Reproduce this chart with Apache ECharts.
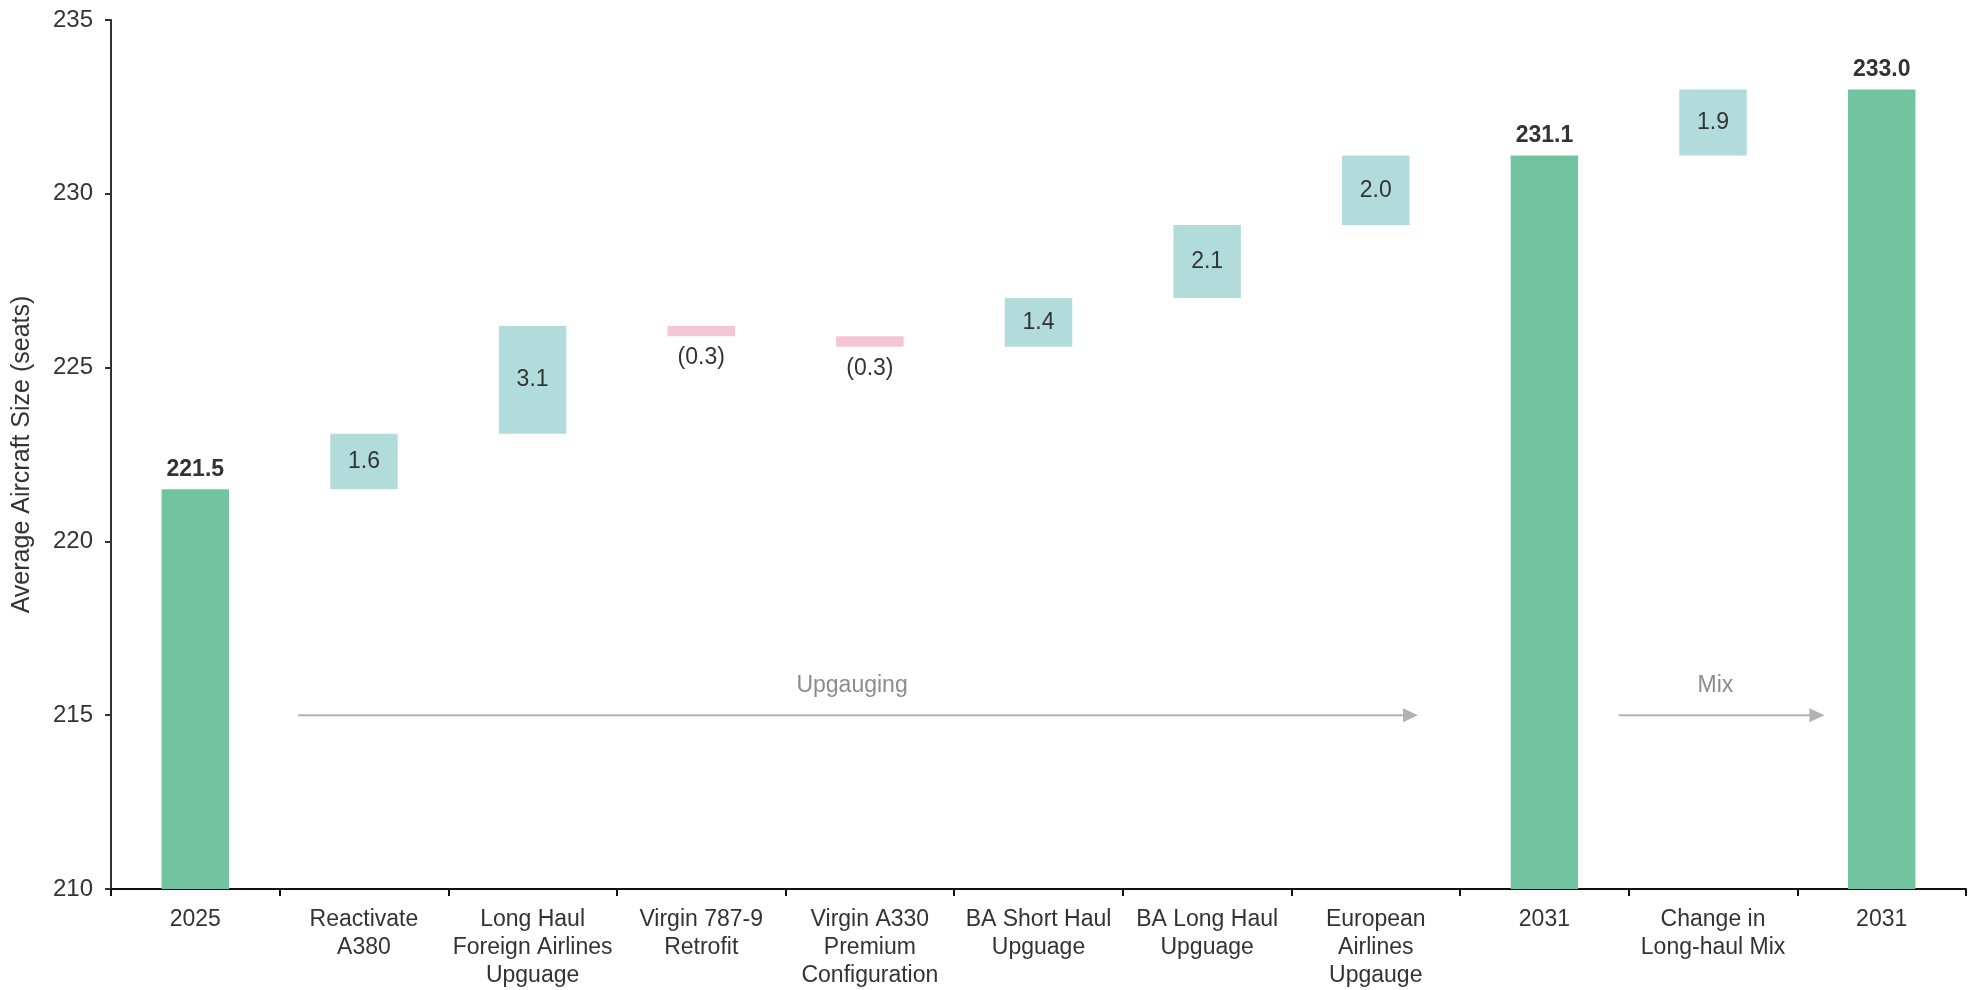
<!DOCTYPE html>
<html>
<head>
<meta charset="utf-8">
<script src="https://cdn.jsdelivr.net/npm/echarts@6/dist/echarts.min.js"></script>
<style>
  html, body { margin: 0; padding: 0; background: #fff; }
  #chart { width: 1974px; height: 990px; }
</style>
</head>
<body>
<div id="chart"></div>
<script>
// 类目
const categories = [
    '2025',
    'Reactivate\nA380',
    'Long Haul\nForeign Airlines\nUpguage',
    'Virgin 787-9\nRetrofit',
    'Virgin A330\nPremium\nConfiguration',
    'BA Short Haul\nUpguage',
    'BA Long Haul\nUpguage',
    'European\nAirlines\nUpgauge',
    '2031',
    'Change in\nLong-haul Mix',
    '2031'
];
// 合计柱
const totalValues = [221.5, '-', '-', '-', '-', '-', '-', '-', 231.1, '-', 233.0];
// 变化量（负数为减少）
const changeValues = [null, 1.6, 3.1, -0.3, -0.3, 1.4, 2.1, 2.0, null, 1.9, null];
// y轴刻度
const yMin = 210, yMax = 235, yStep = 5;

// 透明底座 + 增加 + 减少
let running = 0;
const baseValues = [], upValues = [], downValues = [];
categories.forEach((c, i) => {
    if (totalValues[i] !== '-') {
        running = totalValues[i];
        baseValues.push('-'); upValues.push('-'); downValues.push('-');
    } else {
        const d = changeValues[i];
        if (d >= 0) {
            baseValues.push(running); upValues.push(d); downValues.push('-');
            running = +(running + d).toFixed(1);
        } else {
            running = +(running + d).toFixed(1);
            baseValues.push(running); upValues.push('-'); downValues.push(-d);
        }
    }
});

const font = 'Liberation Sans';
const textColor = '#333';

const chart = echarts.init(document.getElementById('chart'));
chart.setOption({
    animation: false,
    textStyle: { fontFamily: font },
    grid: { left: 111, right: 8, top: 20, bottom: 100, containLabel: false },
    xAxis: {
        type: 'category',
        data: categories,
        axisLine: { lineStyle: { color: '#111', width: 2 } },
        axisTick: { show: true, length: 7, lineStyle: { color: '#111', width: 2 } },
        axisLabel: {
            color: textColor, fontSize: 23, lineHeight: 28, margin: 17, interval: 0
        }
    },
    yAxis: {
        type: 'value',
        min: yMin, max: yMax, interval: yStep,
        name: 'Average Aircraft Size (seats)',
        nameLocation: 'middle',
        nameGap: 76,
        nameTextStyle: { color: textColor, fontSize: 25 },
        splitLine: { show: false },
        axisLine: { show: true, lineStyle: { color: '#333', width: 2 } },
        axisTick: { show: true, length: 6, lineStyle: { color: '#333', width: 2 } },
        axisLabel: { color: textColor, fontSize: 24, margin: 18 }
    },
    series: [
        {
            name: 'base', type: 'bar', stack: 'w', barWidth: '40%',
            itemStyle: { color: 'transparent' },
            data: baseValues, silent: true
        },
        {
            name: 'total', type: 'bar', stack: 'w',
            itemStyle: { color: '#72c3a0' },
            label: {
                show: true, position: 'top', distance: 8,
                color: textColor, fontSize: 23, fontWeight: 'bold',
                formatter: p => p.value.toFixed(1)
            },
            data: totalValues
        },
        {
            name: 'increase', type: 'bar', stack: 'w',
            itemStyle: { color: '#b2dcdc' },
            label: {
                show: true, position: 'inside',
                color: textColor, fontSize: 23,
                formatter: p => p.value.toFixed(1)
            },
            data: upValues
        },
        {
            name: 'decrease', type: 'bar', stack: 'w',
            itemStyle: { color: '#f4c6d4' },
            label: {
                show: true, position: 'bottom', distance: 10,
                color: textColor, fontSize: 23,
                formatter: p => '(' + p.value.toFixed(1) + ')'
            },
            data: downValues
        }
    ]
});

// 箭头注释（位置以类目序号计）
const arrows = [
    { text: 'Upgauging', from: 0.61, to: 7.25, y: 215 },
    { text: 'Mix', from: 8.44, to: 9.66, y: 215 }
];
function px(xIdx, y) {
    const a = chart.convertToPixel({ xAxisIndex: 0, yAxisIndex: 0 }, [0, y]);
    const b = chart.convertToPixel({ xAxisIndex: 0, yAxisIndex: 0 }, [1, y]);
    return [a[0] + (b[0] - a[0]) * xIdx, a[1]];
}
const graphics = [];
arrows.forEach(a => {
    const p1 = px(a.from, a.y), p2 = px(a.to, a.y);
    graphics.push({
        type: 'line', silent: true,
        shape: { x1: p1[0], y1: p1[1], x2: p2[0] - 12, y2: p2[1] },
        style: { stroke: '#b3b1b1', lineWidth: 2 }
    });
    graphics.push({
        type: 'polygon', silent: true,
        shape: { points: [[p2[0] - 15, p2[1] - 7], [p2[0], p2[1]], [p2[0] - 15, p2[1] + 7]] },
        style: { fill: '#b3b1b1' }
    });
    graphics.push({
        type: 'text', silent: true,
        x: (p1[0] + p2[0]) / 2 - 6, y: p1[1] - 18,
        style: {
            text: a.text, fill: '#8c8c8c', fontSize: 23, fontFamily: font,
            align: 'center', verticalAlign: 'bottom'
        }
    });
});
chart.setOption({ graphic: graphics });
</script>
</body>
</html>
